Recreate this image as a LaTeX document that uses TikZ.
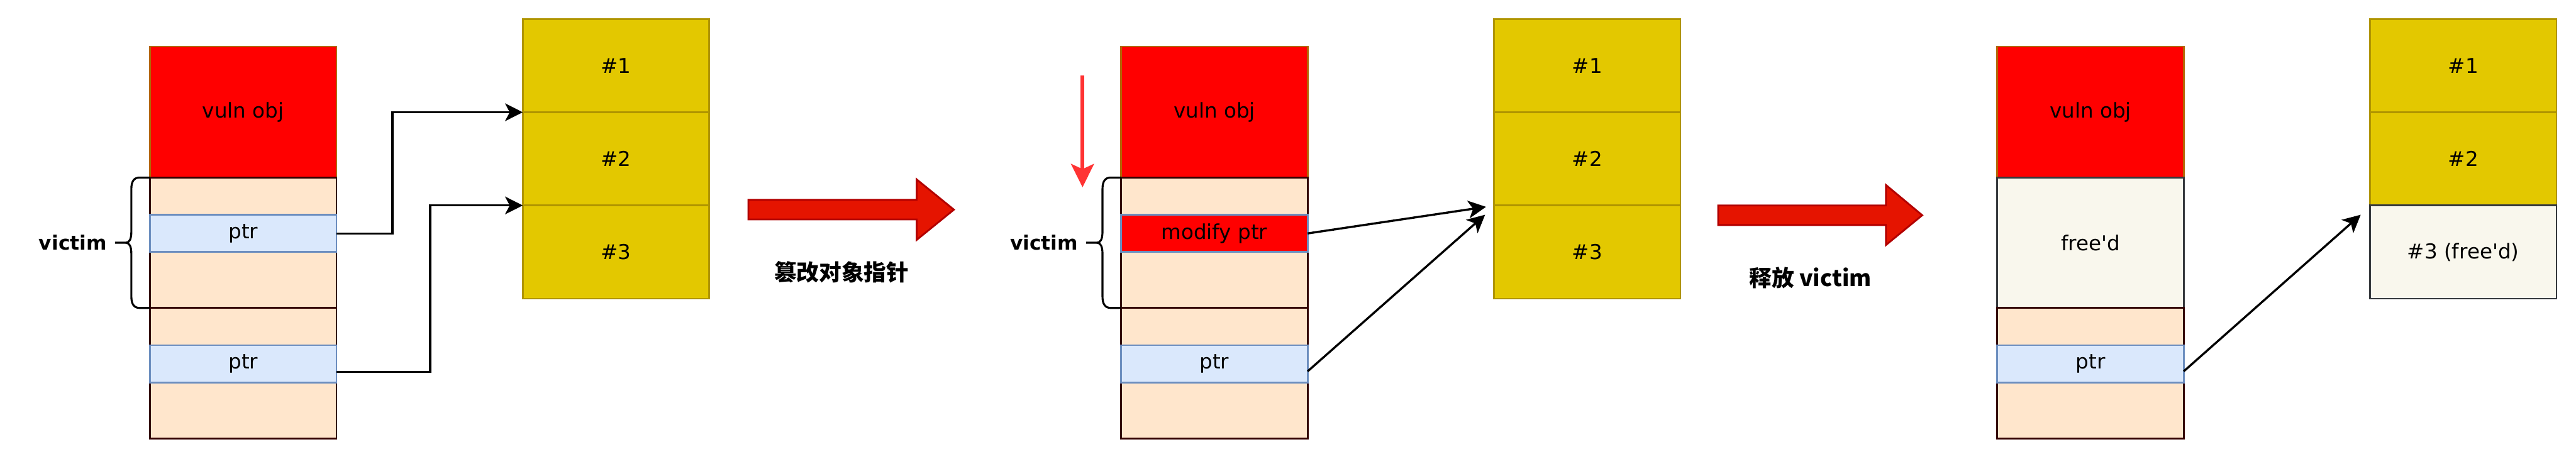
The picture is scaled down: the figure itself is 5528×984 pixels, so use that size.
\documentclass[tikz,border=0pt]{standalone}
\usepackage{fontspec}
\setmainfont{DejaVu Sans}
\newfontfamily\lblfont{DejaVu Sans}
\newfontfamily\cjk{Noto Sans CJK SC}
\usetikzlibrary{arrows.meta,calc}
\definecolor{vulnfill}{HTML}{FF0000}
\definecolor{vulnline}{HTML}{B46504}
\definecolor{heapfill}{HTML}{FFE6CC}
\definecolor{heapline}{HTML}{330000}
\definecolor{ptrfill}{HTML}{DAE8FC}
\definecolor{ptrline}{HTML}{6C8EBF}
\definecolor{slotfill}{HTML}{E3C800}
\definecolor{slotline}{HTML}{B09500}
\definecolor{freefill}{HTML}{F9F7ED}
\definecolor{freeline}{HTML}{36393D}
\definecolor{bigfill}{HTML}{E51400}
\definecolor{bigline}{HTML}{B20000}
\definecolor{thinred}{HTML}{FF3333}
\tikzset{
  cell/.style={draw, line width=1.1pt, inner sep=0pt, outer sep=0pt, minimum width=4cm,
    font=\lblfont\fontsize{12.5}{15}\selectfont},
  vulnbox/.style={cell, fill=vulnfill, draw=vulnline, minimum height=2.81cm},
  heapbox/.style={cell, fill=heapfill, draw=heapline},
  ptrbox/.style={cell, fill=ptrfill, draw=ptrline, minimum height=0.8cm},
  modbox/.style={cell, fill=vulnfill, draw=ptrline, minimum height=0.8cm},
  slotbox/.style={cell, fill=slotfill, draw=slotline, minimum height=2cm},
  freebox/.style={cell, fill=freefill, draw=freeline},
  conn/.style={line width=1.3pt, -{Stealth[length=0.38cm,width=0.38cm,inset=0.1cm]}},
  redarr/.style={draw=thinred, line width=2.3pt, -{Stealth[length=0.5cm,width=0.49cm,inset=0.11cm]}, fill=thinred},
  bigarrow/.style={fill=bigfill, draw=bigline, line width=1.1pt},
  victimlbl/.style={font=\lblfont\bfseries\fontsize{12}{14}\selectfont, inner sep=0pt},
  cjklbl/.style={font=\cjk\bfseries\fontsize{13.7}{16}\selectfont, inner sep=0pt},
  curly/.pic={
    \draw[line width=1.2pt] (0,-140) -- (-22,-140) .. controls (-34,-140) and (-40,-132) .. (-40,-116)
      -- (-40,-24) .. controls (-40,-8) and (-44,0) .. (-52,0) -- (-75,0);
    \draw[line width=1.2pt] (0,140) -- (-22,140) .. controls (-34,140) and (-40,132) .. (-40,116)
      -- (-40,24) .. controls (-40,8) and (-44,0) .. (-52,0);
  }
}
\begin{document}
\begin{tikzpicture}[x=0.01cm,y=-0.01cm]
\useasboundingbox (0,0) rectangle (5528,984);

% ---------- panel 1 ----------
\node[vulnbox] (v1) at (522,240.5) {vuln obj};
\node[heapbox, minimum height=0.8cm] (h1a) at (522,421) {};
\node[heapbox, minimum height=1.2cm] (h1b) at (522,601) {};
\node[heapbox, minimum height=0.8cm] (h1c) at (522,701) {};
\node[heapbox, minimum height=1.2cm] (h1d) at (522,881) {};
\node[ptrbox] (p1a) at (522,501) {ptr};
\node[ptrbox] (p1b) at (522,781) {ptr};

\node[slotbox] (y1a) at (1322,141) {\#1};
\node[slotbox] (y1b) at (1322,341) {\#2};
\node[slotbox] (y1c) at (1322,541) {\#3};

\coordinate (bm1) at ($(h1a.north west)!0.5!(h1b.south west)$);
\pic at (bm1) {curly};
\node[victimlbl, anchor=east] (vl1) at ([xshift=-0.92cm]bm1) {victim};

\draw[conn] (p1a.east) -- ++(120,0) |- (y1b.north west);
\draw[conn] ([yshift=-0.17cm]p1b.east) -- ++(201,0) |- (y1c.north west);

% big arrow 1
\draw[bigarrow] (1606,429) -- (1967,429) -- (1967,385) -- (2047,450) -- (1967,515) -- (1967,471) -- (1606,471) -- cycle;
\node[cjklbl] (t1) at (1806,584) {篡改对象指针};

% ---------- panel 2 ----------
\node[vulnbox] (v2) at (2606,240.5) {vuln obj};
\node[heapbox, minimum height=0.8cm] (h2a) at (2606,421) {};
\node[heapbox, minimum height=1.2cm] (h2b) at (2606,601) {};
\node[heapbox, minimum height=0.8cm] (h2c) at (2606,701) {};
\node[heapbox, minimum height=1.2cm] (h2d) at (2606,881) {};
\node[modbox] (m2) at (2606,501) {modify ptr};
\node[ptrbox] (p2b) at (2606,781) {ptr};

\node[slotbox] (y2a) at (3406,141) {\#1};
\node[slotbox] (y2b) at (3406,341) {\#2};
\node[slotbox] (y2c) at (3406,541) {\#3};

\coordinate (bm2) at ($(h2a.north west)!0.5!(h2b.south west)$);
\pic at (bm2) {curly};
\node[victimlbl, anchor=east] (vl2) at ([xshift=-0.92cm]bm2) {victim};

\coordinate (ra0) at (2323,162);
\coordinate (ra1) at (2323,402);
\draw[redarr] (ra0) -- (ra1);

\draw[conn] (m2.east) -- ([xshift=-0.17cm,yshift=-0.03cm]y2c.north west);
\draw[conn] ([yshift=-0.16cm]p2b.east) -- ([xshift=-0.19cm,yshift=-0.2cm]y2c.north west);

% big arrow 2
\draw[bigarrow] (3687,441) -- (4047,441) -- (4047,397) -- (4125,462) -- (4047,526) -- (4047,483) -- (3687,483) -- cycle;
\node[cjklbl] (t2) at (3885,596) {释放 victim};

% ---------- panel 3 ----------
\node[vulnbox] (v3) at (4486,240.5) {vuln obj};
\node[freebox, minimum height=2.8cm] (f3) at (4486,521) {free'd};
\node[heapbox, minimum height=0.8cm] (h3c) at (4486,701) {};
\node[heapbox, minimum height=1.2cm] (h3d) at (4486,881) {};
\node[ptrbox] (p3b) at (4486,781) {ptr};

\node[slotbox] (y3a) at (5286,141) {\#1};
\node[slotbox] (y3b) at (5286,341) {\#2};
\node[freebox, minimum height=2cm] (y3c) at (5286,541) {\#3 (free'd)};

\draw[conn] ([yshift=-0.16cm]p3b.east) -- ([xshift=-0.2cm,yshift=-0.2cm]y3c.north west);
\end{tikzpicture}
\end{document}
